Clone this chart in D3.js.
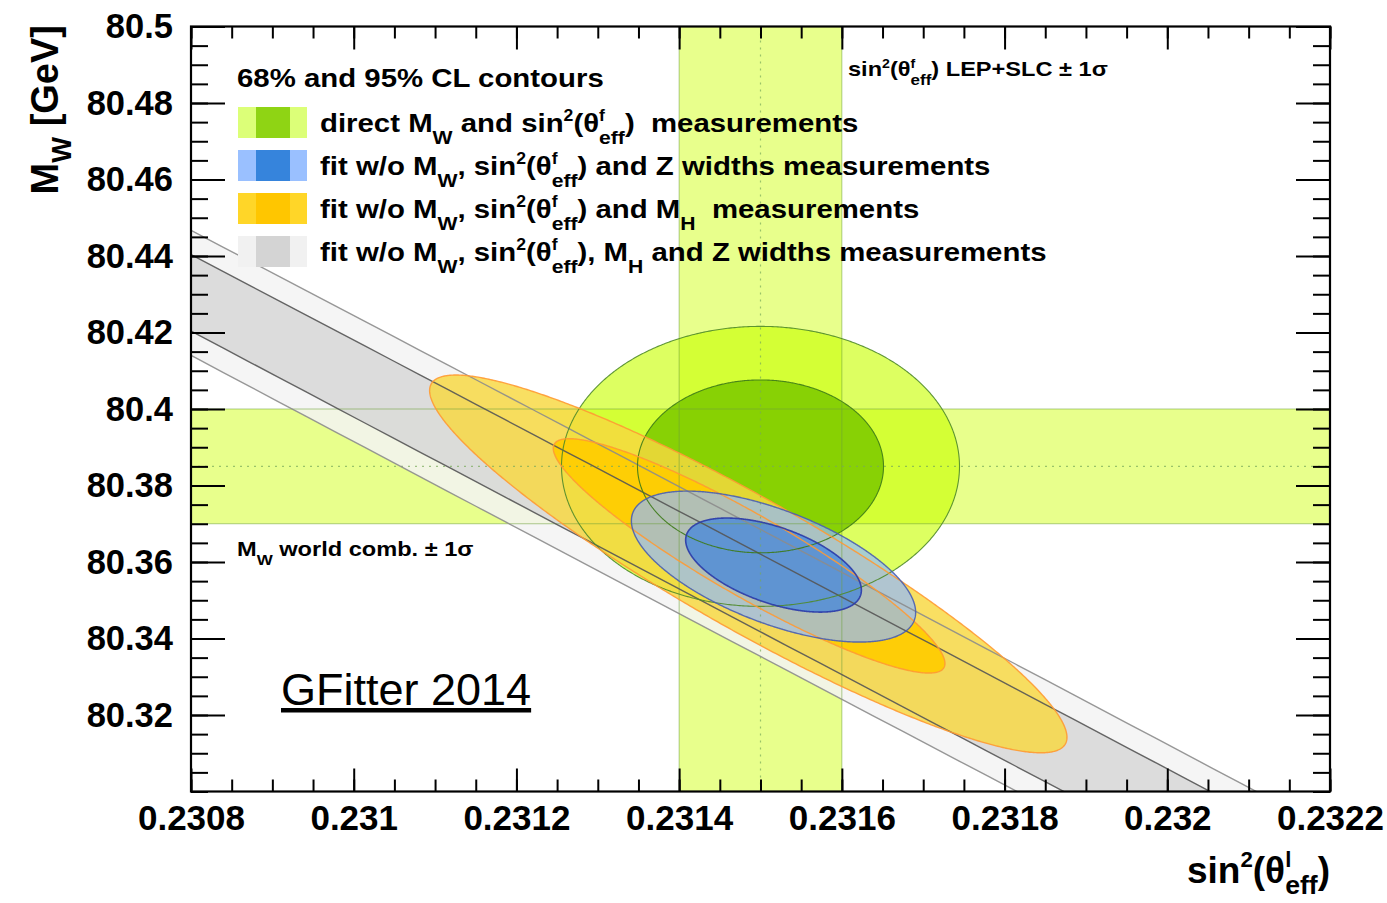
<!DOCTYPE html>
<html><head><meta charset="utf-8">
<script src="https://cdn.jsdelivr.net/npm/d3@7"></script>
<style>
body{margin:0;background:#fff}
text{font-family:"Liberation Sans",Arial,Helvetica,sans-serif;}
</style>
</head><body>
<svg id="chart" width="1387" height="903"></svg>
<script>
// ---------------- data ----------------
const xDomain = [0.2308, 0.2322];
const yDomain = [80.30, 80.50];
const xTickValues = [0.2308, 0.2310, 0.2312, 0.2314, 0.2316, 0.2318, 0.2320, 0.2322];
const xTickLabels = ["0.2308", "0.231", "0.2312", "0.2314", "0.2316", "0.2318", "0.232", "0.2322"];
const yTickValues = [80.32, 80.34, 80.36, 80.38, 80.40, 80.42, 80.44, 80.46, 80.48, 80.50];
const yTickLabels = ["80.32", "80.34", "80.36", "80.38", "80.4", "80.42", "80.44", "80.46", "80.48", "80.5"];

// ±1σ measurement bands
const bandSin2 = [0.2314, 0.2316];
const bandSin2Center = 0.2315;
const bandMW = [80.370, 80.400];
const bandMWCenter = 80.385;

// 68% / 95% CL contours (ellipses): centre, half span in sin2, slope of main axis, vertical half width
const contourKeys   = ["gray95", "gray68", "green95", "green68", "yellow95", "yellow68", "blue95", "blue68"];
const centerSin2    = [0.23150, 0.23150, 0.23150, 0.23150, 0.231485, 0.231486, 0.231516, 0.231516];
const centerMW      = [80.3519, 80.3519, 80.3850, 80.3850, 80.3595, 80.3616, 80.3588, 80.3592];
const halfSpanSin2  = [0.0040, 0.0040, 0.0002446, 0.0001512, 0.0003917, 0.0002407, 0.0001747, 0.0001080];
const axisSlopeMW   = [-112.1, -112.1, 0, 0, -115.7, -116.8, -68.5, -60.6];
const halfWidthMW   = [0.01660, 0.01015, 0.0366, 0.0226, 0.01961, 0.01218, 0.01569, 0.01041];

// legend
const legendTitle = "68% and 95% CL contours";
const legendKeys = ["green", "blue", "yellow", "gray"];
const legendTexts = [
  [["direct M"], ["W", "sub"], [" and sin"], ["2", "sup"], ["(θ"], ["f", "sup"], ["eff", "sub2"], [")  measurements"]],
  [["fit w/o M"], ["W", "sub"], [", sin"], ["2", "sup"], ["(θ"], ["f", "sup"], ["eff", "sub2"], [") and Z widths measurements"]],
  [["fit w/o M"], ["W", "sub"], [", sin"], ["2", "sup"], ["(θ"], ["f", "sup"], ["eff", "sub2"], [") and M"], ["H", "sub"], ["  measurements"]],
  [["fit w/o M"], ["W", "sub"], [", sin"], ["2", "sup"], ["(θ"], ["f", "sup"], ["eff", "sub2"], ["), M"], ["H", "sub"], [" and Z widths measurements"]]
];

// ---------------- styles ----------------
const fillStyle = {
  gray95:   {fill: "#f3f3f3", op: 0.85, stroke: "#8c8c8c", sw: 1.4},
  gray68:   {fill: "#d7d7d7", op: 0.85, stroke: "#555555", sw: 1.4},
  green95:  {fill: "#c8ff00", op: 0.62, stroke: "#4f8a2a", sw: 1.1},
  green68:  {fill: "#80cc00", op: 0.9,  stroke: "#3d7a18", sw: 1.1},
  yellow95: {fill: "#f8d840", op: 0.82, stroke: "#ff9a33", sw: 1.4},
  yellow68: {fill: "#ffcc00", op: 0.92, stroke: "#ff9a33", sw: 1.4},
  blue95:   {fill: "#91b9ff", op: 0.7,  stroke: "#4a5fb0", sw: 1.4},
  blue68:   {fill: "#2878e6", op: 0.6,  stroke: "#2a3aa8", sw: 1.6}
};
const swatchColors = {
  green:  ["#dcff78", "#8fd414"],
  blue:   ["#9ac0ff", "#3684dc"],
  yellow: ["#ffd628", "#ffc600"],
  gray:   ["#f1f1f1", "#d4d4d4"]
};

// ---------------- layout ----------------
const plot = {left: 191, right: 1330, top: 26.5, bottom: 791.5};
const svg = d3.select("#chart");
const x = d3.scaleLinear().domain(xDomain).range([plot.left, plot.right]);
const y = d3.scaleLinear().domain(yDomain).range([plot.bottom, plot.top]);

svg.append("defs").append("clipPath").attr("id", "clip")
  .append("rect").attr("x", plot.left).attr("y", plot.top)
  .attr("width", plot.right - plot.left).attr("height", plot.bottom - plot.top);

const body = svg.append("g").attr("clip-path", "url(#clip)");

// bands
const bandColor = "rgba(204,255,0,0.45)";
body.append("rect").attr("x", x(bandSin2[0])).attr("y", plot.top)
  .attr("width", x(bandSin2[1]) - x(bandSin2[0])).attr("height", plot.bottom - plot.top)
  .attr("fill", bandColor);
body.append("rect").attr("x", plot.left).attr("y", y(bandMW[1]))
  .attr("width", plot.right - plot.left).attr("height", y(bandMW[0]) - y(bandMW[1]))
  .attr("fill", bandColor);

// ellipses
const angles = d3.range(0, 720).map(i => i * Math.PI / 360);
function ellipsePts(i) {
  return angles.map(t => [
    centerSin2[i] + halfSpanSin2[i] * Math.cos(t),
    centerMW[i] + axisSlopeMW[i] * halfSpanSin2[i] * Math.cos(t) + halfWidthMW[i] * Math.sin(t)
  ]);
}
const line = d3.line().x(d => x(d[0])).y(d => y(d[1])).curve(d3.curveLinearClosed);

const fills = body.append("g");
contourKeys.forEach((k, i) => {
  fills.append("path").attr("d", line(ellipsePts(i)))
    .attr("fill", fillStyle[k].fill).attr("fill-opacity", fillStyle[k].op).attr("stroke", "none");
});

// band edges and central values
const edges = body.append("g").attr("stroke", "rgba(110,160,60,0.55)").attr("stroke-width", 1);
bandSin2.forEach(v => edges.append("line").attr("x1", x(v)).attr("x2", x(v)).attr("y1", plot.top).attr("y2", plot.bottom));
bandMW.forEach(v => edges.append("line").attr("y1", y(v)).attr("y2", y(v)).attr("x1", plot.left).attr("x2", plot.right));
const cent = body.append("g").attr("stroke", "rgba(120,170,90,0.7)").attr("stroke-width", 1.2).attr("stroke-dasharray", "2,5");
cent.append("line").attr("x1", x(bandSin2Center)).attr("x2", x(bandSin2Center)).attr("y1", plot.top).attr("y2", plot.bottom);
cent.append("line").attr("y1", y(bandMWCenter)).attr("y2", y(bandMWCenter)).attr("x1", plot.left).attr("x2", plot.right);

const strokes = body.append("g");
contourKeys.forEach((k, i) => {
  strokes.append("path").attr("d", line(ellipsePts(i)))
    .attr("fill", "none").attr("stroke", fillStyle[k].stroke).attr("stroke-width", fillStyle[k].sw)
    .attr("stroke-opacity", 0.9);
});

// ---------------- axes ----------------
const minorX = x.ticks(28), minorY = y.ticks(40);
function styleAxis(size) {
  return g => {
    g.select(".domain").remove();
    g.selectAll(".tick line").attr("stroke", "#000").attr("stroke-width", 2);
    g.selectAll("text").attr("font-size", size).attr("font-weight", "bold").attr("fill", "#000")
      .attr("font-family", "'Liberation Sans',Arial,sans-serif");
  };
}
svg.append("g").attr("transform", `translate(0,${plot.bottom})`)
  .call(d3.axisBottom(x).tickValues(minorX).tickSize(-12).tickFormat("")).call(styleAxis(35));
svg.append("g").attr("transform", `translate(0,${plot.bottom})`)
  .call(d3.axisBottom(x).tickValues(xTickValues).tickSize(-23).tickPadding(14)
    .tickFormat((d, i) => xTickLabels[i])).call(styleAxis(35));
svg.append("g").attr("transform", `translate(0,${plot.top})`)
  .call(d3.axisTop(x).tickValues(minorX).tickSize(-12).tickFormat("")).call(styleAxis(35));
svg.append("g").attr("transform", `translate(0,${plot.top})`)
  .call(d3.axisTop(x).tickValues(xTickValues).tickSize(-23).tickFormat("")).call(styleAxis(35));
svg.append("g").attr("transform", `translate(${plot.left},0)`)
  .call(d3.axisLeft(y).tickValues(minorY).tickSize(-17).tickFormat("")).call(styleAxis(34.5));
svg.append("g").attr("transform", `translate(${plot.left},0)`)
  .call(d3.axisLeft(y).tickValues(yTickValues).tickSize(-34).tickPadding(18)
    .tickFormat((d, i) => yTickLabels[i])).call(styleAxis(34.5));
svg.append("g").attr("transform", `translate(${plot.right},0)`)
  .call(d3.axisRight(y).tickValues(minorY).tickSize(-17).tickFormat("")).call(styleAxis(34.5));
svg.append("g").attr("transform", `translate(${plot.right},0)`)
  .call(d3.axisRight(y).tickValues(yTickValues).tickSize(-34).tickFormat("")).call(styleAxis(34.5));

svg.append("rect").attr("x", plot.left).attr("y", plot.top)
  .attr("width", plot.right - plot.left).attr("height", plot.bottom - plot.top)
  .attr("fill", "none").attr("stroke", "#000").attr("stroke-width", 2.2);

// ---------------- rich text helper ----------------
function rich(parent, px, py, segs, size, opts) {
  opts = opts || {};
  const sx = opts.stretch || 1;
  const subShift = opts.subShift || 0.45;
  const g = parent.append("g").attr("transform", `translate(${px},${py}) scale(${sx},1)`);
  const t = g.append("text").attr("x", 0).attr("y", 0).attr("font-size", size)
    .attr("font-weight", "bold").attr("fill", "#000").style("white-space", "pre");
  if (opts.anchor) t.attr("text-anchor", opts.anchor);
  let off = 0, prevLen = 0;
  segs.forEach(([str, kind]) => {
    let target = 0;
    if (kind === "sub" || kind === "sub2") target = size * subShift;
    else if (kind === "sup") target = -size * 0.42;
    const ts = t.append("tspan").text(str).attr("dy", target - off);
    off = target;
    if (kind === "sub" || kind === "sub2") ts.attr("font-size", size * 0.72);
    if (kind === "sup") ts.attr("font-size", size * 0.6);
    if (kind === "sub2") ts.attr("dx", -prevLen);
    prevLen = ts.node().getComputedTextLength();
  });
  return g;
}

// legend
const leg = svg.append("g");
leg.append("g").attr("transform", "translate(237,87) scale(1.13,1)")
  .append("text").attr("font-size", 26).attr("font-weight", "bold").text(legendTitle);
legendKeys.forEach((k, i) => {
  const top = 107 + i * 43;
  leg.append("rect").attr("x", 238).attr("y", top).attr("width", 69).attr("height", 31).attr("fill", swatchColors[k][0]);
  leg.append("rect").attr("x", 256).attr("y", top).attr("width", 34).attr("height", 31).attr("fill", swatchColors[k][1]);
  rich(leg, 320, top + 25, legendTexts[i], 26, {stretch: 1.13});
});

// annotations
rich(svg, 848, 76, [["sin"], ["2", "sup"], ["(θ"], ["f", "sup"], ["eff", "sub2"], [") LEP+SLC ± 1σ"]], 20, {stretch: 1.18});
rich(svg, 237, 556, [["M"], ["W", "sub"], [" world comb. ± 1σ"]], 20, {stretch: 1.18});

svg.append("text").attr("x", 281).attr("y", 705).attr("font-size", 45).attr("fill", "#000")
  .attr("text-decoration", "underline").text("GFitter 2014");

// axis titles
rich(svg, 1330, 883, [["sin"], ["2", "sup"], ["(θ"], ["l", "sup"], ["eff", "sub2"], [")"]], 37, {anchor: "end", subShift: 0.3});
const yt = rich(svg, 0, 0, [["M"], ["W", "sub"], [" [GeV]"]], 38, {anchor: "end", subShift: 0.35});
yt.attr("transform", "translate(58,25) rotate(-90)");
</script>
</body></html>
